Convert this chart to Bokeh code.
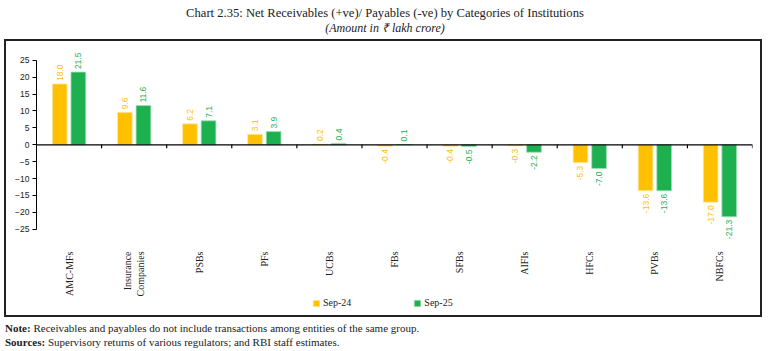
import math
from bokeh.plotting import figure
from bokeh.layouts import column
from bokeh.models import (ColumnDataSource, FactorRange, Range1d, Span, Div,
                          Legend, LegendItem, FixedTicker)
from bokeh.transform import dodge
from bokeh.core.properties import value
from bokeh.embed import file_html
from bokeh.resources import INLINE

# ---------------- data ----------------
categories = ["AMC-MFs", "Insurance\nCompanies", "PSBs", "PFs", "UCBs", "FBs",
              "SFBs", "AIFIs", "HFCs", "PVBs", "NBFCs"]
sep24 = [18.0, 9.6, 6.2, 3.1, 0.2, -0.4, -0.4, -0.3, -5.3, -13.6, -17.0]
sep25 = [21.5, 11.6, 7.1, 3.9, 0.4, 0.1, -0.5, -2.2, -7.0, -13.6, -21.3]
series_names = ["Sep-24", "Sep-25"]
y_ticks = [-25, -20, -15, -10, -5, 0, 5, 10, 15, 20, 25]

title_text = "Chart 2.35: Net Receivables (+ve)/ Payables (-ve) by Categories of Institutions"
subtitle_text = "(Amount in \u20b9 lakh crore)"
note_label = "Note:"
note_text = "Receivables and payables do not include transactions among entities of the same group."
sources_label = "Sources:"
sources_text = "Supervisory returns of various regulators; and RBI staff estimates."

# ---------------- style ----------------
YELLOW = "#FFC000"
GREEN = "#1DB04F"
SERIF = "Liberation Serif"
SANS = "Liberation Sans"
BAR_W = 0.226
OFF = 0.143

p = figure(width=758, height=278,
           x_range=FactorRange(*categories, range_padding=0),
           y_range=Range1d(-49.62, 29.67),
           output_backend="svg", toolbar_location=None,
           min_border_left=30, min_border_right=12,
           min_border_top=3, min_border_bottom=7,
           margin=(0, 0, 0, 4),
           styles={"border": "2px solid #222222"})
p.outline_line_color = None
p.xgrid.grid_line_color = None
p.ygrid.grid_line_color = None


def fmt(v):
    return f"{v:.1f}"


src = ColumnDataSource(dict(
    x=categories,
    a=sep24, b=sep25,
    at=[fmt(v) for v in sep24], bt=[fmt(v) for v in sep25],
    aal=["left" if v >= 0 else "right" for v in sep24],
    bal=["left" if v >= 0 else "right" for v in sep25],
    ayo=[-3 if v >= 0 else 3 for v in sep24],
    byo=[-3 if v >= 0 else 3 for v in sep25],
))

r1 = p.vbar(x=dodge("x", -OFF, range=p.x_range), top="a", bottom=0, width=BAR_W,
            source=src, fill_color=YELLOW, line_color="#FFE9A8", line_width=0.8)
r2 = p.vbar(x=dodge("x", OFF, range=p.x_range), top="b", bottom=0, width=BAR_W,
            source=src, fill_color=GREEN, line_color="#9FDDB4", line_width=0.8)

p.text(x=dodge("x", -OFF, range=p.x_range), y="a", text="at", source=src,
       angle=math.pi / 2, text_align="aal", y_offset="ayo", text_baseline="middle",
       text_color=YELLOW, text_font=value(SANS), text_font_size="8.5px")
p.text(x=dodge("x", OFF, range=p.x_range), y="b", text="bt", source=src,
       angle=math.pi / 2, text_align="bal", y_offset="byo", text_baseline="middle",
       text_color=GREEN, text_font=value(SANS), text_font_size="8.5px")

# zero line with category-boundary ticks
p.add_layout(Span(location=0, dimension="width", line_color="black", line_width=1.3))
bounds_x = list(range(1, len(categories) + 1))
p.segment(x0=bounds_x, y0=[0] * len(bounds_x), x1=bounds_x, y1=[-1.0] * len(bounds_x),
          line_color="black", line_width=1.2)

# y axis
p.yaxis.ticker = FixedTicker(ticks=y_ticks)
p.yaxis.bounds = (min(y_ticks), max(y_ticks))
p.yaxis.minor_tick_line_color = None
p.yaxis.major_tick_in = 0
p.yaxis.major_tick_out = 4
p.yaxis.axis_line_color = "black"
p.yaxis.major_tick_line_color = "black"
p.yaxis.major_label_text_font = SANS
p.yaxis.major_label_text_font_size = "8.5px"
p.yaxis.major_label_text_color = "#222222"
p.yaxis.major_label_standoff = 3

# x axis (category labels), drawn just under the value area
p.xaxis.fixed_location = -29.2
p.xaxis.axis_line_color = None
p.xaxis.major_tick_line_color = None
p.xaxis.minor_tick_line_color = None
p.xaxis.major_label_orientation = math.pi / 2
p.xaxis.major_label_text_font = SERIF
p.xaxis.major_label_text_font_size = "10px"
p.xaxis.major_label_text_color = "#222222"
p.xaxis.major_label_standoff = 2

# legend
legend = Legend(items=[LegendItem(label=series_names[0], renderers=[r1]),
                       LegendItem(label=series_names[1], renderers=[r2])],
                orientation="horizontal", location=(276, 4),
                glyph_width=8, glyph_height=8, label_standoff=3, spacing=62,
                padding=0, margin=0, border_line_color=None,
                background_fill_alpha=0,
                label_text_font=SERIF, label_text_font_size="10px",
                label_text_color="#222222", label_height=10)
p.add_layout(legend, "center")

title_div = Div(
    text=(f"<div style='font-size:12.6px'>{title_text}</div>"
          f"<div style='font-style:italic;font-size:12px'>{subtitle_text}</div>"),
    width=770, height=39, margin=0,
    styles={"text-align": "center", "font-family": SERIF,
            "line-height": "15px", "color": "#222222", "padding-top": "6px",
            "box-sizing": "border-box"})

notes_div = Div(
    text=(f"<div><b>{note_label}</b> {note_text}</div>"
          f"<div><b>{sources_label}</b> {sources_text}</div>"),
    width=770, height=34, margin=0,
    styles={"font-family": SERIF, "font-size": "11px", "line-height": "14px",
            "color": "#222222", "padding-left": "5px", "padding-top": "4px",
            "box-sizing": "border-box"})

layout = column(title_div, p, notes_div, spacing=0, margin=0)

open("out.html", "w").write(file_html(layout, INLINE))
